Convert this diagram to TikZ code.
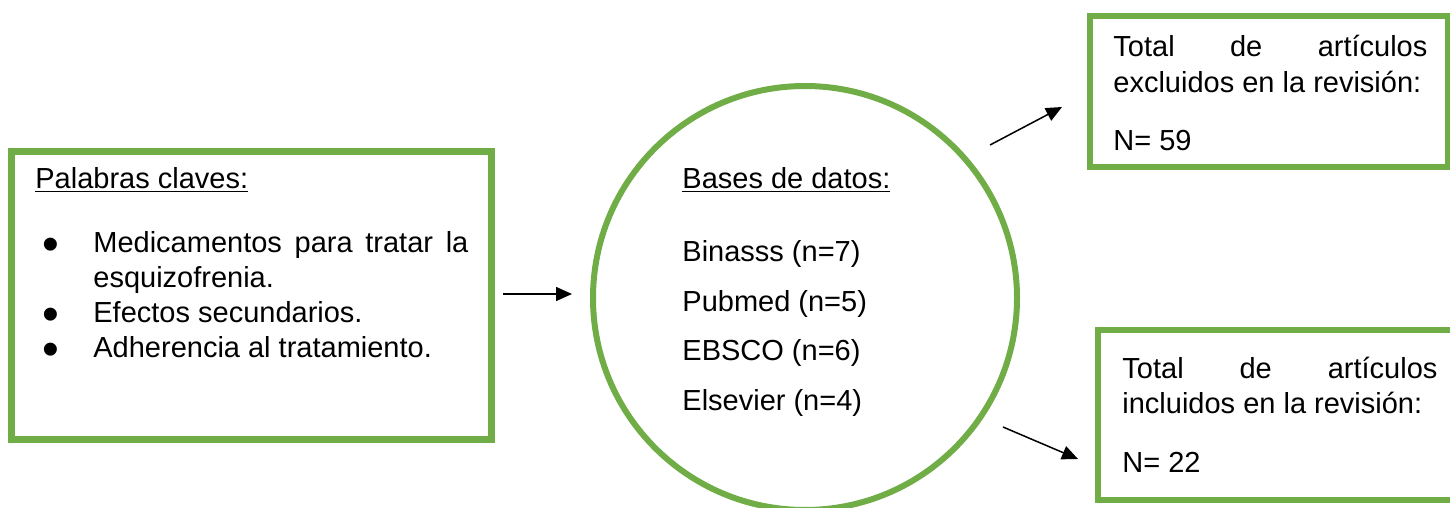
\documentclass[tikz,border=0pt]{standalone}
\usepackage{fontspec}
\usepackage{graphicx}
\setmainfont{Liberation Sans}
\usetikzlibrary{arrows.meta}
\definecolor{kwgreen}{HTML}{70AD47}
\tikzset{
	greenbox/.style={draw=kwgreen, line width=3pt, inner sep=0pt},
	txt/.style={inner sep=0pt, anchor=base west},
	bull/.style={inner sep=0pt, anchor=base},
	flow/.style={line width=0.75pt, -{Triangle[length=8pt,width=7pt]}}
}
\newcommand{\jline}[2]{\makebox[#1][s]{#2}}
\newcommand{\bigbullet}{\raisebox{-4pt}[6pt][0pt]{\scalebox{1.65}{\textbullet}}}

\begin{document}
\begin{tikzpicture}[x=0.5pt, y=-0.5pt, font=\fontsize{14.5pt}{17.5pt}\selectfont]
	\useasboundingbox (0,0) rectangle (1450,508);
	% boxes
	\node[greenbox, line width=3.5pt, minimum width=240pt, minimum height=144pt] (kw) at (251.5,295.5) {};
	\node[greenbox, circle, minimum size=212pt] (db) at (805,298) {};
	\node[greenbox, minimum width=179pt, minimum height=75.5pt] (excl) at (1269,91.5) {};
	\node[greenbox, minimum width=180pt, minimum height=84.75pt] (incl) at (1278,414.75) {};

	% palabras claves
	\node[txt] (kwtitle) at (35,188) {\underline{Palabras claves:}};
	\node[bull] (b1) at (51,252) {\bigbullet};
	\node[bull] (b2) at (51,322) {\bigbullet};
	\node[bull] (b3) at (51,357) {\bigbullet};
	\node[txt] (kw1) at (93,252) {\jline{187.5pt}{Medicamentos para tratar la}};
	\node[txt] (kw2) at (93,287) {esquizofrenia.};
	\node[txt] (kw3) at (93,322) {Efectos secundarios.};
	\node[txt] (kw4) at (93,357) {Adherencia al tratamiento.};

	% bases de datos
	\node[txt] (dbtitle) at (682,188) {\underline{Bases de datos:}};
	\foreach \dbname/\yy [count=\i] in {{Binasss (n=7)}/261, {Pubmed (n=5)}/311, {EBSCO (n=6)}/360, {Elsevier (n=4)}/410}
		\node[txt] (db\i) at (682,\yy) {\dbname};

	% resultados
	\node[txt] (excl1) at (1113,57) {\jline{157pt}{Total de artículos}};
	\node[txt] (excl2) at (1113,93) {excluidos en la revisión:};
	\node[txt] (excl3) at (1113,150) {N= 59};
	\node[txt] (incl1) at (1122,378) {\jline{157.5pt}{Total de artículos}};
	\node[txt] (incl2) at (1122,413) {incluidos en la revisión:};
	\node[txt] (incl3) at (1122,472) {N= 22};

	% flechas
	\coordinate (kwout) at (503,294);
	\coordinate (dbin) at (572,294);
	\coordinate (dbup) at (990,145);
	\coordinate (exclin) at (1062,107);
	\coordinate (dbdown) at (1003,427);
	\coordinate (inclin) at (1078,459);
	\draw[flow] (kwout) -- (dbin);
	\draw[flow] (dbup) -- (exclin);
	\draw[flow] (dbdown) -- (inclin);
\end{tikzpicture}
\end{document}
